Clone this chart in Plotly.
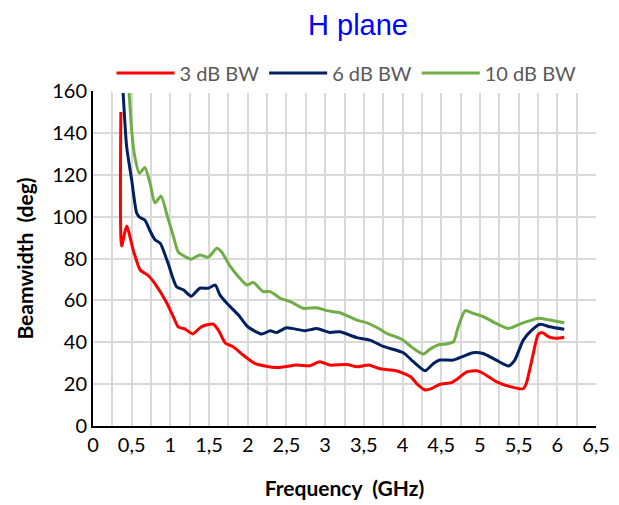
import plotly.graph_objects as go

x_tick_vals = [0, 0.5, 1, 1.5, 2, 2.5, 3, 3.5, 4, 4.5, 5, 5.5, 6, 6.5]
x_tick_text = ["0", "0,5", "1", "1,5", "2", "2,5", "3", "3,5", "4", "4,5", "5", "5,5", "6", "6,5"]

f3 = [0.36, 0.37, 0.435, 0.52, 0.61, 0.71, 0.80, 0.95, 1.04, 1.10, 1.19, 1.29, 1.40, 1.55, 1.62,
      1.71, 1.81, 1.94, 2.09, 2.20, 2.39, 2.63, 2.80, 2.93, 3.06, 3.28, 3.41, 3.56, 3.71, 3.92,
      4.10, 4.20, 4.29, 4.38, 4.48, 4.63, 4.72, 4.83, 4.96, 5.04, 5.21, 5.39, 5.56, 5.60, 5.69,
      5.75, 5.80, 5.90, 5.99, 6.09]
bw3 = [150, 86, 95.5, 84, 74.5, 72, 68, 59, 52, 47.4, 46.3, 44, 47.4, 48.7, 45.8,
       39.6, 37.9, 33.9, 29.9, 28.8, 27.9, 29.1, 28.8, 30.7, 29.1, 29.4, 28.3, 29.1, 27.3, 26.4,
       23.6, 19.6, 17.2, 18, 19.9, 20.7, 22.8, 25.9, 26.4, 25.2, 21.2, 18.8, 17.8, 20.4, 34.7,
       43.5, 44.6, 42.4, 41.9, 42.4]

f6 = [0.37, 0.435, 0.50, 0.565, 0.61, 0.67, 0.74, 0.80, 0.87, 0.97, 1.08, 1.17, 1.27, 1.38,
      1.49, 1.58, 1.64, 1.73, 1.88, 2.00, 2.18, 2.29, 2.37, 2.50, 2.74, 2.89, 3.06, 3.19, 3.41,
      3.58, 3.75, 4.01, 4.14, 4.29, 4.40, 4.48, 4.66, 4.79, 4.91, 5.04, 5.21, 5.37, 5.45, 5.56,
      5.67, 5.78, 5.90, 6.09]
bw6 = [172, 133.4, 117.5, 101.7, 99.5, 98.4, 93, 89, 87.2, 77.7, 66.5, 65, 62, 65.8,
       65.8, 67.3, 62.6, 58.6, 53, 47.4, 43.9, 45.5, 44.6, 46.9, 45.5, 46.6, 44.7, 45, 42.2,
       41, 38, 35, 30.7, 26.4, 29.9, 31.5, 31.5, 33.4, 35, 34.6, 31.5, 28.7, 31.5, 41,
       45.8, 48.6, 47.4, 46.2]

f10 = [0.44, 0.50, 0.54, 0.60, 0.67, 0.74, 0.80, 0.88, 0.95, 1.04, 1.10, 1.19, 1.27, 1.38,
       1.49, 1.60, 1.66, 1.77, 1.88, 1.99, 2.07, 2.20, 2.29, 2.42, 2.55, 2.72, 2.89, 3.02, 3.19,
       3.41, 3.54, 3.71, 3.79, 3.99, 4.14, 4.27, 4.35, 4.46, 4.57, 4.66, 4.72, 4.81, 4.91, 5.04,
       5.21, 5.37, 5.56, 5.75, 5.90, 6.09]
bw10 = [176, 141, 128.6, 120.7, 123.5, 115.5, 106.6, 109.8, 101.6, 90.4, 83.2, 80.9, 79.7, 81.7,
        80.6, 84.9, 83.2, 76.5, 71.3, 67.3, 68.6, 64.2, 64.2, 61, 59.4, 56.2, 56.5, 55.1, 54.1,
        50.6, 49.3, 46.2, 44.3, 41.4, 37.1, 34.4, 36.6, 38.7, 39.2, 40.3, 47.4, 55.1, 53.8, 52.3,
        49, 46.6, 49.3, 51.4, 50.6, 49.3]

series = [
    ("3 dB BW", f3, bw3, "#FF0000"),
    ("6 dB BW", f6, bw6, "#002060"),
    ("10 dB BW", f10, bw10, "#70AD47"),
]

fig = go.Figure()
for name, xs, ys, col in series:
    fig.add_trace(go.Scatter(
        x=xs, y=ys, name=name, mode="lines",
        line=dict(color=col, width=3, shape="spline", smoothing=0.6),
    ))

FONT = "Lato, Open Sans"
fig.update_layout(
    width=619, height=505,
    margin=dict(l=93, r=23, t=91, b=79, autoexpand=False),
    paper_bgcolor="white", plot_bgcolor="white",
    title=dict(text="H plane", x=358 / 619, xanchor="center", y=1 - 25 / 505, yanchor="middle",
               font=dict(family="Liberation Sans, Arial", size=29, color="#0000FF")),
    legend=dict(orientation="h", x=0.504, xanchor="center", y=1 + 18 / 335,
                yanchor="middle", font=dict(family=FONT, size=20, color="#595959"),
                itemwidth=58, traceorder="normal"),
    showlegend=True,
)
fig.update_xaxes(
    range=[0, 6.5], tickvals=x_tick_vals, ticktext=x_tick_text, automargin=False,
    showgrid=True, gridcolor="#D9D9D9", gridwidth=1.5,
    minor=dict(dtick=0.25, showgrid=True, gridcolor="#D9D9D9", gridwidth=1.5),
    showline=True, linecolor="black", linewidth=2, ticks="", zeroline=False,
    tickfont=dict(family=FONT, size=20, color="#000000"),
    title=dict(text="<b>Frequency  (GHz)</b>", font=dict(family=FONT, size=21, color="black"),
               standoff=26),
)
fig.update_yaxes(
    range=[0, 160], dtick=20, automargin=False,
    showgrid=True, gridcolor="#D9D9D9", gridwidth=1.5,
    showline=True, linecolor="black", linewidth=2, ticks="", zeroline=False,
    tickfont=dict(family=FONT, size=20, color="#000000"),
    title=dict(text="<b>Beamwidth  (deg)</b>", font=dict(family=FONT, size=21, color="black"),
               standoff=13),
)

fig.write_html("out.html", config={"displayModeBar": False},
               post_script="document.body.style.margin='0';")
